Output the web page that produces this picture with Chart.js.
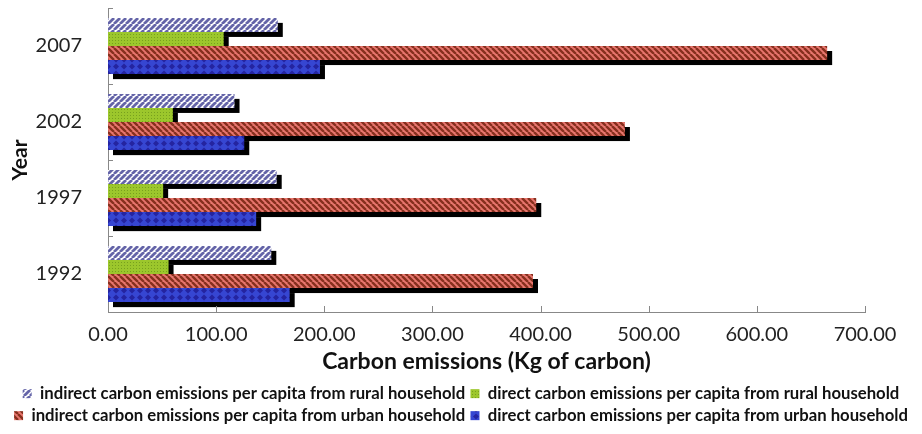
<!DOCTYPE html>
<html>
<head>
<meta charset="utf-8">
<script src="https://cdn.jsdelivr.net/npm/chart.js@4/dist/chart.umd.min.js"></script>
<style>
  html, body { margin: 0; background: #fff; }
  #wrap { width: 922px; height: 434px; }
</style>
</head>
<body>
<div id="wrap"><canvas id="carbonChart"></canvas></div>
<script>
// values (Kg of carbon per capita), top row first
const years = ['2007', '2002', '1997', '1992'];
const indirectRural = [157, 117, 156, 151];
const directRural = [107, 60, 51, 56];
const indirectUrban = [665, 478, 396, 393];
const directUrban = [196, 126, 137, 168];
const xTicks = [0, 100, 200, 300, 400, 500, 600, 700];

const FONT = 'Lato, "Open Sans", sans-serif';

function stripes(bg, fg, dir, size, lw) {
    const c = document.createElement('canvas');
    c.width = c.height = size;
    const g = c.getContext('2d');
    g.fillStyle = bg;
    g.fillRect(0, 0, size, size);
    g.strokeStyle = fg;
    g.lineWidth = lw;
    g.beginPath();
    for (const k of [-size, 0, size]) {
        if (dir === '/') {
            g.moveTo(k, size); g.lineTo(k + size, 0);
        } else {
            g.moveTo(k, 0); g.lineTo(k + size, size);
        }
    }
    g.stroke();
    return g.createPattern(c, 'repeat');
}

function dots(bg, fg) {
    const c = document.createElement('canvas');
    c.width = c.height = 3;
    const g = c.getContext('2d');
    g.fillStyle = bg;
    g.fillRect(0, 0, 3, 3);
    g.fillStyle = fg;
    g.fillRect(1, 1, 1, 1);
    return g.createPattern(c, 'repeat');
}

function diamonds(bg, fg) {
    const c = document.createElement('canvas');
    c.width = 8; c.height = 7;
    const g = c.getContext('2d');
    g.fillStyle = bg;
    g.fillRect(0, 0, 8, 7);
    g.fillStyle = fg;
    g.beginPath();
    g.moveTo(4, 0.5); g.lineTo(7, 3.5); g.lineTo(4, 6.5); g.lineTo(1, 3.5);
    g.closePath();
    g.fill();
    return g.createPattern(c, 'repeat');
}

// black drop shadow behind every bar, drawn before the bars themselves
const barShadow = {
    id: 'barShadow',
    beforeDatasetsDraw(chart) {
        const ctx = chart.ctx;
        ctx.save();
        ctx.fillStyle = '#000';
        chart.data.datasets.forEach((ds, i) => {
            chart.getDatasetMeta(i).data.forEach(bar => {
                const p = bar.getProps(['x', 'y', 'base', 'height'], true);
                ctx.fillRect(p.base + 5, p.y - p.height / 2 + 5, p.x - p.base, p.height);
            });
        });
        ctx.restore();
    }
};

// short tick marks pointing into the plot, like the original
const innerTicks = {
    id: 'innerTicks',
    afterDatasetsDraw(chart) {
        const { ctx, chartArea, scales } = chart;
        ctx.save();
        ctx.strokeStyle = '#888';
        ctx.lineWidth = 1;
        ctx.beginPath();
        xTicks.forEach(v => {
            const px = Math.round(scales.x.getPixelForValue(v)) + 0.5;
            ctx.moveTo(px, chartArea.bottom);
            ctx.lineTo(px, chartArea.bottom - 6);
        });
        for (let i = 0; i <= years.length; i++) {
            const py = Math.round(scales.y.getPixelForValue(i - 0.5)) + 0.5;
            ctx.moveTo(chartArea.left, py);
            ctx.lineTo(chartArea.left + 5, py);
        }
        ctx.stroke();
        ctx.restore();
    }
};

const ctx = document.getElementById('carbonChart').getContext('2d');

new Chart(ctx, {
    type: 'bar',
    data: {
        labels: years,
        datasets: [
            {
                label: 'indirect carbon emissions per capita from rural household',
                data: indirectRural,
                backgroundColor: stripes('#ffffff', '#6464a8', '/', 6, 2.8)
            },
            {
                label: 'direct carbon emissions per capita from rural household',
                data: directRural,
                backgroundColor: dots('#9cc72c', '#77a01e')
            },
            {
                label: 'indirect carbon emissions per capita from urban household',
                data: indirectUrban,
                backgroundColor: stripes('#e8766e', '#86301e', '\\', 6, 2.4)
            },
            {
                label: 'direct carbon emissions per capita from urban household',
                data: directUrban,
                backgroundColor: diamonds('#3646d2', '#2424a0')
            }
        ]
    },
    options: {
        indexAxis: 'y',
        responsive: true,
        maintainAspectRatio: false,
        animation: false,
        datasets: {
            bar: { categoryPercentage: 0.74, barPercentage: 1.0, borderWidth: 0 }
        },
        layout: { padding: { top: 8, right: 0, bottom: 0, left: 0 } },
        plugins: {
            legend: {
                position: 'bottom',
                labels: {
                    boxWidth: 9,
                    boxHeight: 9,
                    padding: 5.3,
                    color: '#111',
                    font: { family: FONT, size: 16.7, weight: 'bold' }
                }
            },
            tooltip: { enabled: false }
        },
        scales: {
            x: {
                min: 0,
                max: 700,
                afterBuildTicks: axis => { axis.ticks = xTicks.map(v => ({ value: v })); },
                afterFit: axis => {
                    axis.height = 68;
                    axis.paddingRight = 57;
                },
                grid: { display: false },
                border: { display: true, color: '#888' },
                ticks: {
                    padding: 5,
                    color: '#222',
                    font: { family: FONT, size: 20, lineHeight: 1 },
                    callback: v => Number(v).toFixed(2)
                },
                title: {
                    display: true,
                    text: 'Carbon emissions (Kg of carbon)',
                    color: '#111',
                    padding: { top: 0, bottom: 7 },
                    font: { family: FONT, size: 23, weight: 'bold', lineHeight: 1 }
                }
            },
            y: {
                afterFit: axis => {
                    axis.width = 108;
                    axis.paddingTop = 0;
                    axis.paddingBottom = 0;
                },
                grid: { display: false },
                border: { display: true, color: '#888' },
                ticks: {
                    padding: 18,
                    color: '#222',
                    font: { family: FONT, size: 20 }
                },
                title: {
                    display: true,
                    text: 'Year',
                    color: '#111',
                    padding: { top: 8, bottom: 0 },
                    font: { family: FONT, size: 21, weight: 'bold' }
                }
            }
        }
    },
    plugins: [barShadow, innerTicks]
});
</script>
</body>
</html>
